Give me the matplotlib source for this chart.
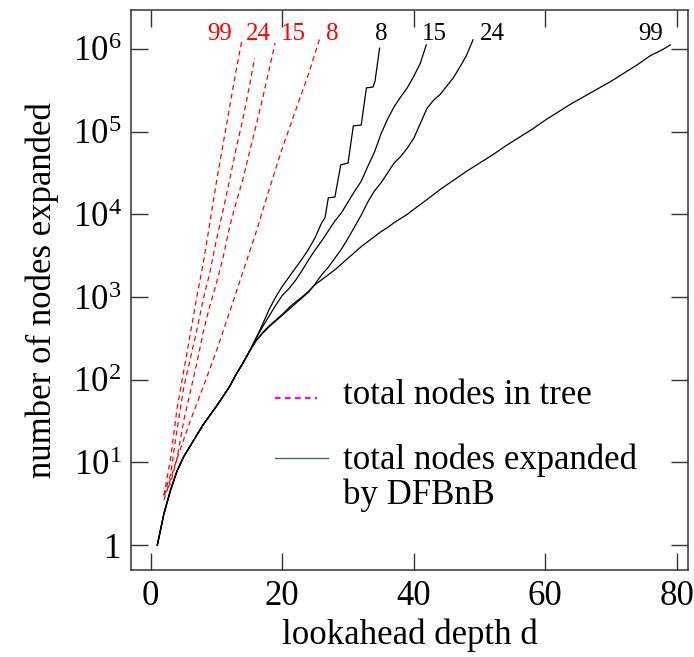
import matplotlib
matplotlib.use("Agg")
import matplotlib.pyplot as plt
from matplotlib.lines import Line2D

plt.rcParams['font.family'] = ['Liberation Serif', 'DejaVu Serif']
plt.rcParams['mathtext.fontset'] = 'custom'
plt.rcParams['mathtext.rm'] = 'Liberation Serif'
plt.rcParams['mathtext.it'] = 'Liberation Serif'

# total nodes in tree (red dashed), one per label
tree_labels = ['99', '24', '15', '8']
tree_depth = {
    '99': [2, 3, 4, 5, 6, 7, 8, 9, 10, 11, 12, 13, 13.9],
    '24': [2, 3, 4, 5, 6, 7, 8, 9, 10, 11, 12, 13, 14, 15, 15.8],
    '15': [2, 3, 4, 5, 6, 7, 8, 9, 10, 11, 12, 13, 14, 15, 16, 17, 18, 18.9],
    '8': [2, 4, 6, 8, 10, 12, 14, 16, 18, 20, 22, 24, 25.7],
}
tree_nodes = {
    '99': [4, 11, 45, 126, 355, 1000, 2630, 8000, 25100, 70800, 200000, 562000, 1320000],
    '24': [4, 7.1, 25, 79, 178, 398, 955, 2000, 5010, 11200, 26300, 63100, 141000, 355000, 776000],
    '15': [4, 5.6, 11.2, 31.6, 70.8, 158, 380, 794, 1480, 3020, 7080, 14100, 26300, 56200,
           117000, 251000, 562000, 1175000],
    '8': [3.5, 11.2, 31.6, 83, 224, 661, 2000, 6030, 20000, 63100, 178000, 501000, 1350000],
}

# nodes expanded by DFBnB (black); all curves share the same start
trunk_depth = [1, 2, 3, 4, 5, 6, 7, 8, 9, 10, 11, 12, 13, 14, 15]
trunk_nodes = [1, 2.4, 4.6, 7.9, 11.7, 15.8, 21.4, 28.8, 37.2, 47.9, 63, 83, 117, 158, 220]

dfbnb_labels = ['8', '15', '24', '99']
dfbnb_depth = {
    '8': [16, 17, 18, 19, 20, 21, 22, 23, 24, 25, 26, 26.5, 27, 28, 28.9, 30, 30.8, 32, 32.8,
          33.8, 34.1, 34.8],
    '15': [16, 17, 18, 19, 20, 21, 22, 23, 24, 25, 26, 27, 28, 29, 30, 31, 32, 33, 34, 35, 36,
           37, 38, 39, 40, 41, 41.9],
    '24': [16, 17, 18, 19, 20, 21, 22, 23, 24, 25, 26, 27, 28, 29, 30, 31, 32, 33, 34, 35, 36,
           37, 38, 39, 40, 41, 42, 43, 44, 45, 46, 47, 48, 49],
    '99': [16, 17, 18, 19, 20, 21, 22, 23, 24, 25, 26, 27, 28, 29, 30, 31, 32, 33, 34, 35, 36,
           37, 38, 39, 40, 42, 44, 46, 48, 50, 52, 54, 56, 58, 60, 62, 64, 66, 68, 70, 72,
           74, 76, 78, 79],
}
dfbnb_nodes = {
    '8': [316, 468, 708, 1000, 1349, 1738, 2239, 2884, 3802, 5248, 7943, 9120, 15850, 16220,
          39810, 41690, 117500, 120200, 338800, 346700, 407400, 1023000],
    '15': [316, 437, 589, 794, 1047, 1259, 1585, 2089, 2818, 3715, 4786, 6310, 8318, 10470,
           14130, 19050, 25120, 38020, 56230, 93330, 141300, 199500, 263000, 338800,
           467700, 676100, 1122000],
    '24': [295, 363, 437, 513, 603, 708, 832, 977, 1148, 1445, 1862, 2291, 2951, 3802, 5129,
           7079, 9772, 14100, 19100, 24000, 31600, 41700, 50100, 63100, 83200, 126000,
           191000, 240000, 282000, 355000, 447000, 603000, 832000, 1290000],
    '99': [295, 372, 447, 525, 617, 741, 871, 1000, 1175, 1413, 1622, 1862, 2138, 2512, 2951,
           3467, 4074, 4680, 5370, 6170, 6920, 7940, 8910, 10000, 11500, 15100, 20000,
           25700, 33100, 41700, 52500, 67600, 85100, 107000, 138000, 174000, 219000,
           269000, 331000, 407000, 513000, 646000, 832000, 1000000, 1120000],
}

# where the curve names sit along the top
tree_label_x = {'99': 10.5, '24': 16.4, '15': 21.7, '8': 27.6}
dfbnb_label_x = {'8': 35.0, '15': 43.2, '24': 51.9, '99': 76.0}
label_y = 1.5e6

fig = plt.figure(figsize=(6.94, 6.57), dpi=100)
ax = fig.add_axes([0.1888, 0.1324, 0.8026, 0.8531])

for name in tree_labels:
    ax.plot(tree_depth[name], tree_nodes[name], color='red', lw=0.9,
            linestyle=(0, (4, 3)))
    ax.text(tree_label_x[name], label_y, name, color='red', fontsize=18,
            ha='center', va='center')

for name in dfbnb_labels:
    ax.plot(trunk_depth + dfbnb_depth[name], trunk_nodes + dfbnb_nodes[name],
            color='black', lw=0.9)
    ax.text(dfbnb_label_x[name], label_y, name, color='black', fontsize=18,
            ha='center', va='center')

ax.set_yscale('log')
ax.set_xlim(-3, 81.7)
ax.set_ylim(0.5, 3.0e6)
ax.set_xticks([0, 20, 40, 60, 80])
ax.set_yticks([1, 10, 100, 1e3, 1e4, 1e5, 1e6])
ax.set_yticklabels(['1', '$10^1$', '$10^2$', '$10^3$', '$10^4$', '$10^5$', '$10^6$'])
ax.minorticks_off()
ax.tick_params(direction='in', length=12, width=1.0, top=True, right=True,
               labelsize=25, color='#333333')
ax.tick_params(axis='x', pad=7)
ax.tick_params(axis='y', pad=7)
for sp in ax.spines.values():
    sp.set_linewidth(1.1)
    sp.set_color('#333333')

ax.set_xlabel('lookahead depth d', fontsize=25, labelpad=4)
ax.set_ylabel('number of nodes expanded', fontsize=25, labelpad=10)

# hand-placed legend
ax.add_line(Line2D([0.2585, 0.334], [0.307, 0.307], transform=ax.transAxes,
                   color='#ff00ff', lw=1.6, linestyle=(0, (2.5, 2))))
ax.text(0.381, 0.312, 'total nodes in tree', transform=ax.transAxes,
        fontsize=25, va='center', ha='left')
ax.add_line(Line2D([0.2585, 0.354], [0.2, 0.2], transform=ax.transAxes,
                   color='#4a6464', lw=1.0))
ax.text(0.381, 0.196, 'total nodes expanded', transform=ax.transAxes,
        fontsize=25, va='center', ha='left')
ax.text(0.381, 0.134, 'by DFBnB', transform=ax.transAxes,
        fontsize=25, va='center', ha='left')

plt.savefig('out.png', dpi=100)
